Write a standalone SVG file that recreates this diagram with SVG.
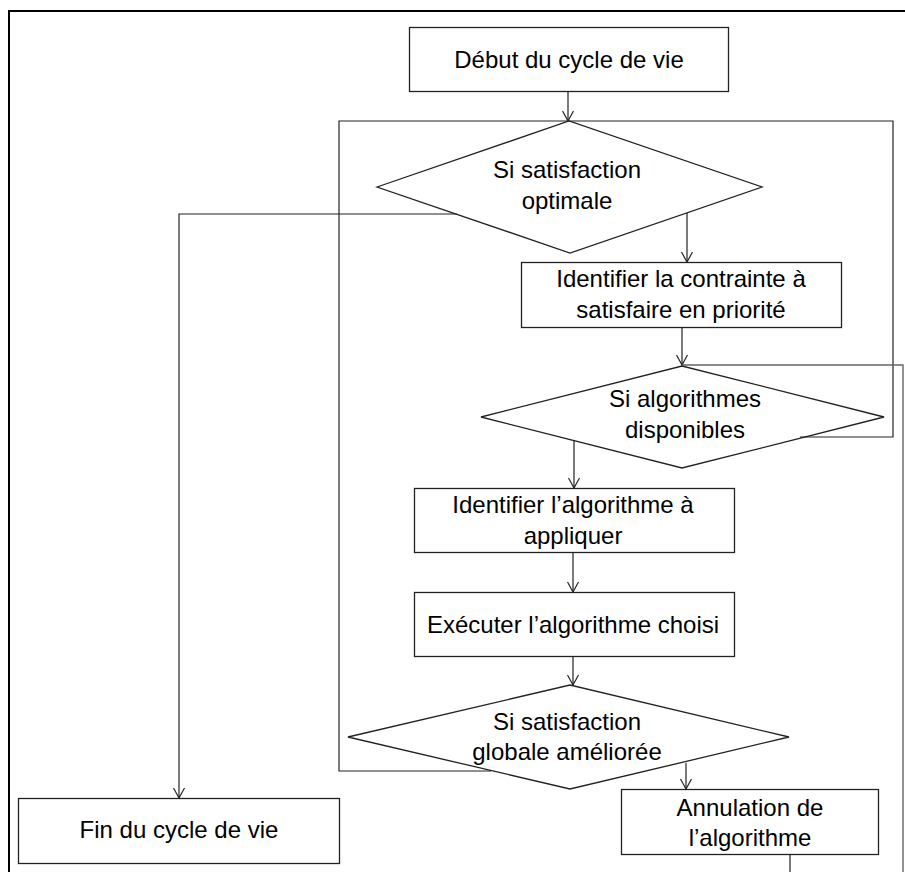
<svg xmlns="http://www.w3.org/2000/svg" width="905" height="872" viewBox="0 0 905 872">
<defs>
<marker id="arr" viewBox="0 0 12 12" refX="11" refY="6" markerWidth="12" markerHeight="12" orient="auto" markerUnits="userSpaceOnUse"><path d="M1,0.5 L11,6 L1,11.5" fill="none" stroke="#222" stroke-width="1.2"/></marker>
<style>
.box{fill:#fff;stroke:#222;stroke-width:1.3}
.dia{fill:none;stroke:#222;stroke-width:1.3}
.ln{fill:none;stroke:#222;stroke-width:1.2}
.lg{fill:none;stroke:#666;stroke-width:1.4}
text{font-family:"Liberation Sans",Arial,sans-serif;font-size:24px;fill:#000;text-anchor:middle}
</style>
</defs>
<rect width="905" height="872" fill="#fff"/>
<path d="M9,872 L9,11 L905,11" fill="none" stroke="#000" stroke-width="2"/>
<g id="connectors">
<path class="ln" d="M568,92 L568,121" marker-end="url(#arr)"/>
<path class="ln" d="M687,213 L687,262" marker-end="url(#arr)"/>
<path class="ln" d="M457,214 L179,214 L179,798" marker-end="url(#arr)"/>
<path class="ln" d="M682,327 L682,365" marker-end="url(#arr)"/>
<path class="ln" d="M800,437 L893,437 L893,121 L568,121"/>
<path class="ln" d="M491,771 L339,771 L339,121 L568,121"/>
<path class="lg" d="M903,872 L903,365 L682,365"/>
<path class="ln" d="M574,441 L574,488" marker-end="url(#arr)"/>
<path class="ln" d="M573,553 L573,592" marker-end="url(#arr)"/>
<path class="ln" d="M573,656 L573,685" marker-end="url(#arr)"/>
<path class="ln" d="M686,763 L686,789" marker-end="url(#arr)"/>
<path class="ln" d="M790,855 L790,872"/>
</g>
<g id="debut"><rect class="box" x="409.5" y="27.5" width="319" height="64"/><text x="569" y="68">Début du cycle de vie</text></g>
<g id="d-optimale"><polygon class="dia" points="377,187 569,121 762,187 570,253"/><text x="567" y="178">Si satisfaction</text><text x="567" y="209">optimale</text></g>
<g id="contrainte"><rect class="box" x="521.5" y="262.5" width="320" height="65"/><text x="681" y="287">Identifier la contrainte à</text><text x="681" y="318">satisfaire en priorité</text></g>
<g id="d-algos"><polygon class="dia" points="481,417 682,366 884,417 682,468"/><text x="685" y="407">Si algorithmes</text><text x="685" y="438">disponibles</text></g>
<g id="identifier-algo"><rect class="box" x="414.5" y="488.5" width="320" height="64"/><text x="573" y="513">Identifier l’algorithme à</text><text x="573" y="544">appliquer</text></g>
<g id="executer"><rect class="box" x="414.5" y="592.5" width="320" height="64"/><text x="573" y="633">Exécuter l’algorithme choisi</text></g>
<g id="d-globale"><polygon class="dia" points="348,737 570,685 789,737 570,789"/><text x="567" y="730">Si satisfaction</text><text x="567" y="760">globale améliorée</text></g>
<g id="annulation"><rect class="box" x="621.5" y="789.5" width="257" height="65"/><text x="750" y="816">Annulation de</text><text x="750" y="846">l’algorithme</text></g>
<g id="fin"><rect class="box" x="18.5" y="798.5" width="321" height="65"/><text x="179" y="838">Fin du cycle de vie</text></g>
</svg>
